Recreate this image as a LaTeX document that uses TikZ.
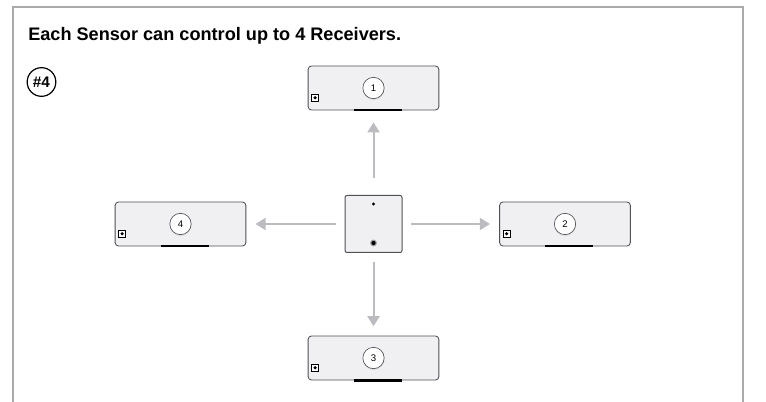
\documentclass[tikz,border=0pt]{standalone}
\usepackage{fontspec}
\setmainfont{Liberation Sans}
\usetikzlibrary{arrows.meta, positioning, shadows}
\definecolor{framegray}{HTML}{AAAAAA}
\definecolor{boxfill}{HTML}{F0F0F2}
\definecolor{boxedge}{HTML}{505055}
\definecolor{arrowgray}{HTML}{BBBBC0}

\tikzset{
  receiver/.style={draw=boxedge, fill=boxfill, rounded corners=2.5pt, line width=0.65pt,
    minimum width=98pt, minimum height=33pt, inner sep=0pt},
  sensor/.style={draw=boxedge, fill=boxfill, rounded corners=1.5pt, line width=0.75pt,
    minimum size=42.75pt, inner sep=0pt},
  numdot/.style={circle, draw=boxedge, fill=white, line width=0.5pt, minimum size=16pt,
    inner sep=0pt, font=\fontsize{7.2}{8}\selectfont,
    drop shadow={opacity=0.12, shadow xshift=0pt, shadow yshift=-1.2pt}},
  lamp/.style={draw=black, fill=white, line width=0.5pt, minimum size=5pt, inner sep=0pt},
  link/.style={draw=arrowgray, line width=1.5pt, -{Triangle[length=7.5pt, width=9pt]},
    shorten <=6.5pt, shorten >=7pt},
}

\begin{document}
\begin{tikzpicture}[x=0.75pt, y=-0.75pt]
    \useasboundingbox (0,0) rectangle (766,402);

    % Frame (open at the bottom)
    \draw[framegray, line width=1.1pt] (13,402) -- (13,7) -- (743,7) -- (743,402);

    % Title
    \node[anchor=base west, inner sep=0pt, font=\bfseries\fontsize{13.6}{16}\selectfont]
        (title) at (28,41) {Each Sensor can control up to 4 Receivers.};

    % Step badge
    \node[circle, draw=black, line width=0.9pt, minimum size=21.5pt, inner sep=0pt,
          font=\bfseries\fontsize{11.5}{12}\selectfont] (badge) at (41.5,82) {\#4};

    % Sensor
    \node[sensor] (sensor) at (373.5,224) {};
    \fill[black] ([yshift=-6.75pt]sensor.north) circle (1.2pt);
    \fill[gray!70] ([yshift=7.5pt]sensor.south) circle (2.6pt);
    \fill[black] ([yshift=7.5pt]sensor.south) circle (1.6pt);

    % Receivers
    \node[receiver] (rcv1) at (373.5,88) {};
    \node[receiver] (rcv2) at (565,224) {};
    \node[receiver] (rcv3) at (373.5,358) {};
    \node[receiver] (rcv4) at (180.5,224) {};

    \foreach \n in {1,...,4} {
        \node[numdot] (num\n) at (rcv\n.center) {\n};
        \node[lamp] (lamp\n) at ([xshift=5.5pt, yshift=9.5pt]rcv\n.south west) {};
        \fill[black] (lamp\n.center) circle (1.3pt);
        \draw[black, line width=1.6pt] ([xshift=-15pt]rcv\n.south) -- ([xshift=21pt]rcv\n.south);
    }

    % Links from the sensor
    \draw[link, shorten <=13pt, shorten >=9pt] (sensor.north) -- (rcv1.south);
    \draw[link] (sensor.east) -- (rcv2.west);
    \draw[link] (sensor.south) -- (rcv3.north);
    \draw[link] (sensor.west) -- (rcv4.east);
\end{tikzpicture}
\end{document}
